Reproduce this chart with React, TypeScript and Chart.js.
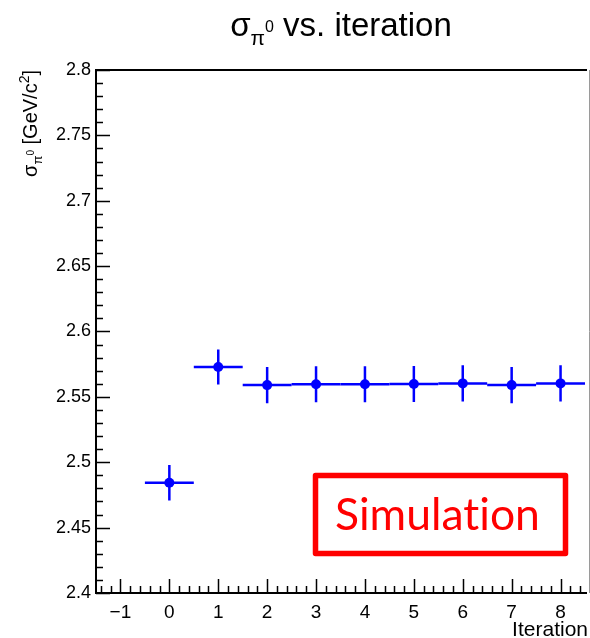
import React, { useEffect, useRef } from "react";
import { Chart, registerables } from "chart.js";

Chart.register(...registerables);

const iterations = [0, 1, 2, 3, 4, 5, 6, 7, 8];
const sigmaValues = [2.4843, 2.5729, 2.559, 2.5596, 2.5597, 2.5598, 2.5603, 2.559, 2.5603];
const sigmaErrors = [0.0136, 0.0134, 0.0138, 0.0138, 0.0138, 0.0138, 0.0138, 0.0138, 0.0138];
const iterationHalfWidths = [0.5, 0.5, 0.5, 0.5, 0.5, 0.5, 0.5, 0.5, 0.5];
const xTickValues = [-1, 0, 1, 2, 3, 4, 5, 6, 7, 8];
const yTickValues = [2.4, 2.45, 2.5, 2.55, 2.6, 2.65, 2.7, 2.75, 2.8];
const xRange = [-1.5, 8.5];
const yRange = [2.4, 2.8];

const FONT = "'Liberation Sans', Arial, Helvetica, sans-serif";
const BLUE = "#0000ff";

type Piece = { t: string; size: number; dy: number };

function drawPieces(ctx: CanvasRenderingContext2D, pieces: Piece[], x: number, y: number, align: "left" | "center" | "right") {
  let total = 0;
  const widths = pieces.map((p) => {
    ctx.font = `${p.size}px ${FONT}`;
    const w = ctx.measureText(p.t).width;
    total += w;
    return w;
  });
  let cx = align === "left" ? x : align === "center" ? x - total / 2 : x - total;
  ctx.textAlign = "left";
  ctx.textBaseline = "alphabetic";
  pieces.forEach((p, i) => {
    ctx.font = `${p.size}px ${FONT}`;
    ctx.fillText(p.t, cx, y + p.dy);
    cx += widths[i];
  });
}

const rootPlugin = {
  id: "rootStyle",
  beforeDatasetsDraw(chart: any) {
    const { ctx, chartArea, scales } = chart;
    const xs = scales.x;
    const ys = scales.y;
    ctx.save();
    ctx.beginPath();
    ctx.rect(chartArea.left, chartArea.top, chartArea.right - chartArea.left, chartArea.bottom - chartArea.top);
    ctx.clip();
    ctx.strokeStyle = BLUE;
    ctx.lineWidth = 2.5;
    iterations.forEach((it, i) => {
      const v = sigmaValues[i];
      const e = sigmaErrors[i];
      const hw = iterationHalfWidths[i];
      const px = xs.getPixelForValue(it);
      const py = ys.getPixelForValue(v);
      ctx.beginPath();
      ctx.moveTo(xs.getPixelForValue(it - hw), py);
      ctx.lineTo(xs.getPixelForValue(it + hw), py);
      ctx.moveTo(px, ys.getPixelForValue(v - e));
      ctx.lineTo(px, ys.getPixelForValue(v + e));
      ctx.stroke();
    });
    ctx.restore();
  },
  afterDraw(chart: any) {
    const { ctx, chartArea, scales } = chart;
    const xs = scales.x;
    const ys = scales.y;
    ctx.save();
    // ticks inside frame
    ctx.strokeStyle = "#000";
    ctx.lineWidth = 1.5;
    ctx.beginPath();
    for (let k = 0; k <= 50; k++) {
      const v = xRange[0] + 0.1 + k * 0.2;
      const val = Math.round(v * 10) / 10;
      if (val > xRange[1]) break;
      const isMajor = Math.abs(val - Math.round(val)) < 1e-6;
      const px = Math.round(xs.getPixelForValue(val)) + 0.5;
      const len = isMajor ? 14 : 7;
      ctx.moveTo(px, chartArea.bottom);
      ctx.lineTo(px, chartArea.bottom - len);
    }
    for (let k = 0; k <= 40; k++) {
      const val = yRange[0] + k * 0.01;
      const isMajor = k % 5 === 0;
      const py = Math.round(ys.getPixelForValue(val)) + 0.5;
      const len = isMajor ? 14 : 7;
      ctx.moveTo(chartArea.left, py);
      ctx.lineTo(chartArea.left + len, py);
    }
    ctx.stroke();
    // frame
    ctx.lineWidth = 2;
    ctx.beginPath();
    ctx.moveTo(chartArea.left - 1, chartArea.top);
    ctx.lineTo(chartArea.right + 2, chartArea.top);
    ctx.moveTo(chartArea.left, chartArea.top);
    ctx.lineTo(chartArea.left, chartArea.bottom + 1);
    ctx.moveTo(chartArea.left - 1, chartArea.bottom);
    ctx.lineTo(chartArea.right + 2, chartArea.bottom);
    ctx.stroke();
    // right edge gray line
    ctx.strokeStyle = "#9a9a9a";
    ctx.lineWidth = 1;
    ctx.beginPath();
    ctx.moveTo(589.5, chartArea.top);
    ctx.lineTo(589.5, chartArea.bottom);
    ctx.stroke();

    ctx.fillStyle = "#000";
    // Title
    drawPieces(
      ctx,
      [
        { t: "σ", size: 33, dy: 0 },
        { t: "π", size: 21, dy: 9 },
        { t: "0", size: 16, dy: -4 },
        { t: " vs. iteration", size: 33, dy: 0 },
      ],
      341,
      36,
      "center"
    );
    // Y label rotated
    ctx.save();
    ctx.translate(37, 70);
    ctx.rotate(-Math.PI / 2);
    drawPieces(
      ctx,
      [
        { t: "σ", size: 20, dy: 0 },
        { t: "π", size: 13, dy: 5 },
        { t: "0", size: 10, dy: -3 },
        { t: " [GeV/c", size: 20, dy: 0 },
        { t: "2", size: 14, dy: -8 },
        { t: "]", size: 20, dy: 0 },
      ],
      0,
      0,
      "right"
    );
    ctx.restore();
    // X label
    ctx.font = `21px ${FONT}`;
    ctx.textAlign = "right";
    ctx.textBaseline = "alphabetic";
    ctx.fillText("Iteration", 588, 636);

    // Simulation box
    ctx.strokeStyle = "#ff0000";
    ctx.lineWidth = 5.5;
    ctx.lineJoin = "round";
    ctx.strokeRect(315.5, 475.5, 250, 78);
    ctx.fillStyle = "#ff0000";
    const txt = "Simulat\u200Cion";
    let size = 44;
    ctx.font = `${size}px Lato, 'Open Sans', sans-serif`;
    const w = ctx.measureText(txt).width;
    size = (size * 205) / w;
    ctx.font = `${size}px Lato, 'Open Sans', sans-serif`;
    ctx.textAlign = "left";
    ctx.textBaseline = "alphabetic";
    ctx.fillText(txt, 335, 530);
    ctx.restore();
  },
};

export default function App() {
  const canvasRef = useRef<HTMLCanvasElement | null>(null);
  useEffect(() => {
    if (!canvasRef.current) return;
    const chart = new Chart(canvasRef.current, {
      type: "scatter",
      data: {
        datasets: [
          {
            data: iterations.map((it, i) => ({ x: it, y: sigmaValues[i] })),
            backgroundColor: BLUE,
            borderColor: BLUE,
            pointRadius: 5,
            pointBorderWidth: 0,
            showLine: false,
          },
        ],
      },
      options: {
        animation: false,
        responsive: false,
        devicePixelRatio: 1,
        layout: { padding: { top: 70, right: 2, left: 0, bottom: 0 } },
        plugins: { legend: { display: false }, title: { display: false }, tooltip: { enabled: false } },
        scales: {
          x: {
            type: "linear",
            min: xRange[0],
            max: xRange[1],
            grid: { display: false, drawTicks: false },
            border: { display: false },
            afterBuildTicks: (scale: any) => {
              scale.ticks = xTickValues.map((v) => ({ value: v }));
            },
            afterFit: (scale: any) => {
              scale.height = 45;
            },
            ticks: {
              autoSkip: false,
              maxRotation: 0,
              padding: 8,
              color: "#000",
              font: { family: FONT, size: 19 },
              callback: (v: any) => (Number(v) < 0 ? "\u2212" + Math.abs(Number(v)) : String(v)),
            },
          },
          y: {
            type: "linear",
            min: yRange[0],
            max: yRange[1],
            grid: { display: false, drawTicks: false },
            border: { display: false },
            afterBuildTicks: (scale: any) => {
              scale.ticks = yTickValues.map((v) => ({ value: v }));
            },
            afterFit: (scale: any) => {
              scale.width = 96;
            },
            ticks: {
              autoSkip: false,
              padding: 5,
              color: "#000",
              font: { family: FONT, size: 18 },
              callback: (v: any) => String(Math.round(Number(v) * 100) / 100),
            },
          },
        },
      },
      plugins: [rootPlugin],
    });
    return () => chart.destroy();
  }, []);
  return (
    <div style={{ position: "fixed", left: 0, top: 0, width: 590, height: 638, background: "#fff" }}>
      <canvas ref={canvasRef} width={590} height={638} />
    </div>
  );
}
